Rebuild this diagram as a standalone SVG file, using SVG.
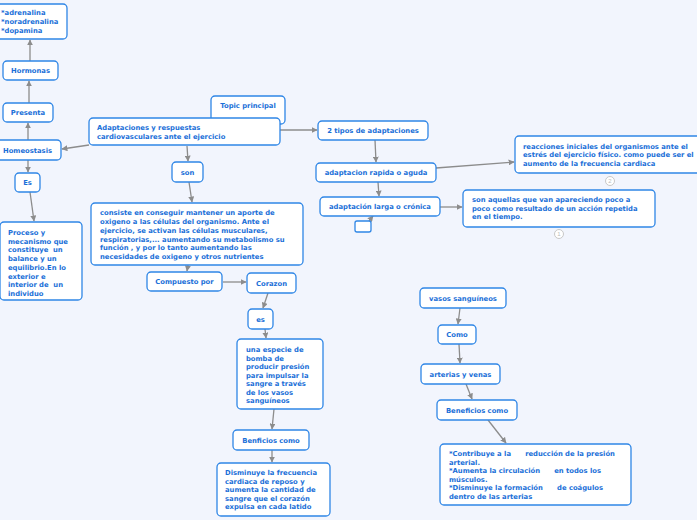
<svg xmlns="http://www.w3.org/2000/svg" width="697" height="520" viewBox="0 0 697 520">
<style>
.n rect{fill:#fff;stroke:#2f86e6;stroke-width:1.3}
.n text{font-family:"DejaVu Sans",Verdana,sans-serif;font-weight:bold;font-size:6.8px;fill:#1a6fd8;white-space:pre}
.c{text-anchor:middle}
.e line{stroke:#8c8c8c;stroke-width:1.3;marker-end:url(#a)}
.dot{fill:#fff;stroke:#c8c8c8;stroke-width:1}
.dt{font-family:"Liberation Sans",Arial,sans-serif;font-size:6px;fill:#bbb;text-anchor:middle}
</style>
<defs>
<marker id="a" viewBox="0 0 10 10" refX="9" refY="5" markerWidth="6" markerHeight="6" markerUnits="userSpaceOnUse" orient="auto"><path d="M0,0L10,5L0,10z" fill="#8c8c8c"/></marker>
</defs>
<rect width="697" height="520" fill="#f2f5fd"/>
<g id="edges" class="e">
<line x1="30" y1="61" x2="30" y2="40"/>
<line x1="29" y1="103" x2="29" y2="81"/>
<line x1="28" y1="140" x2="28" y2="123"/>
<line x1="89" y1="145" x2="62" y2="149"/>
<line x1="28" y1="160" x2="28" y2="172"/>
<line x1="30" y1="192" x2="34" y2="221"/>
<line x1="187" y1="146" x2="188" y2="161"/>
<line x1="189" y1="182" x2="192" y2="202"/>
<line x1="188" y1="265" x2="187" y2="271"/>
<line x1="223" y1="282" x2="246" y2="282"/>
<line x1="268" y1="293" x2="263" y2="308"/>
<line x1="265" y1="329" x2="266" y2="338"/>
<line x1="274" y1="409" x2="272" y2="429"/>
<line x1="272" y1="450" x2="272" y2="462"/>
<line x1="280" y1="130" x2="317" y2="130"/>
<line x1="375" y1="140" x2="376" y2="162"/>
<line x1="378" y1="182" x2="379" y2="196"/>
<line x1="369" y1="221" x2="373" y2="216"/>
<line x1="436" y1="168" x2="514" y2="162"/>
<line x1="440" y1="207" x2="462" y2="207"/>
<line x1="460" y1="308" x2="458" y2="324"/>
<line x1="459" y1="344" x2="460" y2="363"/>
<line x1="466" y1="384" x2="472" y2="399"/>
<line x1="488" y1="420" x2="506" y2="443"/>
</g>
<g id="hormonaslist" class="n"><rect x="-4" y="4" width="71" height="35" rx="4"/><text x="1" y="15">*adrenalina</text><text x="1" y="24">*noradrenalina</text><text x="1" y="33">*dopamina</text></g>
<g id="hormonas" class="n"><rect x="3" y="61" width="55" height="19" rx="4"/><text class="c" x="30.5" y="73">Hormonas</text></g>
<g id="presenta" class="n"><rect x="3" y="103" width="50" height="19" rx="4"/><text class="c" x="28" y="115">Presenta</text></g>
<g id="homeostasis" class="n"><rect x="-4" y="140" width="65" height="20" rx="4"/><text x="3" y="152.5">Homeostasis</text></g>
<g id="es1" class="n"><rect x="15" y="173" width="25" height="19" rx="4"/><text class="c" x="27.5" y="185">Es</text></g>
<g id="proceso" class="n"><rect x="0" y="222" width="82" height="78" rx="4"/><text x="8" y="235">Proceso y</text><text x="8" y="243.7">mecanismo que</text><text x="8" y="252.4">constituye  un</text><text x="8" y="261.1">balance y un</text><text x="8" y="269.8">equilibrio.En lo</text><text x="8" y="278.5">exterior e</text><text x="8" y="287.2">interior de  un</text><text x="8" y="295.9">individuo</text></g>
<g id="topic" class="n"><rect x="211" y="96" width="74" height="28" rx="4"/><text class="c" x="248" y="108">Topic principal</text></g>
<g id="main" class="n"><rect x="89" y="118" width="191" height="27" rx="4"/><text x="97" y="129.5">Adaptaciones y respuestas</text><text x="97" y="138.5">cardiovasculares ante el ejercicio</text></g>
<g id="son" class="n"><rect x="172" y="162" width="31" height="20" rx="4"/><text class="c" x="187.5" y="174.5">son</text></g>
<g id="consiste" class="n"><rect x="91" y="203" width="212" height="62" rx="4"/><text x="100" y="215">consiste en conseguir mantener un aporte de</text><text x="100" y="224">oxigeno a las células del organismo. Ante el</text><text x="100" y="232.8">ejercicio, se activan las células musculares,</text><text x="100" y="241.6">respiratorias,... aumentando su metabolismo su</text><text x="100" y="250.4">función , y por lo tanto aumentando las</text><text x="100" y="259.2">necesidades de oxigeno y otros nutrientes</text></g>
<g id="compuesto" class="n"><rect x="147" y="272" width="75" height="19" rx="4"/><text class="c" x="184.5" y="284">Compuesto por</text></g>
<g id="corazon" class="n"><rect x="247" y="273" width="49" height="20" rx="4"/><text class="c" x="271.5" y="285.5">Corazon</text></g>
<g id="es2" class="n"><rect x="248" y="309" width="25" height="20" rx="4"/><text class="c" x="260.5" y="321.5">es</text></g>
<g id="bomba" class="n"><rect x="237" y="339" width="86" height="70" rx="4"/><text x="246" y="352">una especie de</text><text x="246" y="360.5">bomba de</text><text x="246" y="369">producir presión</text><text x="246" y="377.5">para impulsar la</text><text x="246" y="386">sangre a través</text><text x="246" y="394.5">de los vasos</text><text x="246" y="403">sanguíneos</text></g>
<g id="benficios" class="n"><rect x="233" y="430" width="76" height="20" rx="4"/><text class="c" x="271" y="442.5">Benficios como</text></g>
<g id="disminuye" class="n"><rect x="217" y="463" width="113" height="53" rx="4"/><text x="225" y="475">Disminuye la frecuencia</text><text x="225" y="483.5">cardiaca de reposo y</text><text x="225" y="492">aumenta la cantidad de</text><text x="225" y="500.5">sangre que el corazón</text><text x="225" y="509">expulsa en cada latido</text></g>
<g id="tipos" class="n"><rect x="318" y="121" width="110" height="19" rx="4"/><text class="c" x="373" y="133">2 tipos de adaptaciones</text></g>
<g id="rapida" class="n"><rect x="316" y="163" width="120" height="19" rx="4"/><text class="c" x="376" y="175">adaptacion rapida o aguda</text></g>
<g id="larga" class="n"><rect x="320" y="197" width="120" height="19" rx="4"/><text class="c" x="380" y="209">adaptación larga o crónica</text></g>
<g id="vacio" class="n"><rect x="355" y="221" width="16" height="11" rx="2"/></g>
<g id="reacciones" class="n"><rect x="515" y="136" width="186" height="37" rx="4"/><text x="523" y="148.5">reacciones iniciales del organismos ante el</text><text x="523" y="157">estrés del ejercicio físico. como puede ser el</text><text x="523" y="165.5">aumento de la frecuencia cardiaca</text></g>
<g id="badge2"><circle class="dot" cx="610" cy="181" r="4.5"/><text class="dt" x="610" y="183">2</text></g>
<g id="aquellas" class="n"><rect x="463" y="190" width="192" height="37" rx="4"/><text x="472" y="202">son aquellas que van apareciendo poco a</text><text x="472" y="210.5">poco como resultado de un acción repetida</text><text x="472" y="219">en el tiempo.</text></g>
<g id="badge1"><circle class="dot" cx="559" cy="234" r="4.5"/><text class="dt" x="559" y="236">1</text></g>
<g id="vasos" class="n"><rect x="420" y="288" width="86" height="20" rx="4"/><text class="c" x="463" y="300.5">vasos sanguíneos</text></g>
<g id="como" class="n"><rect x="438" y="325" width="38" height="19" rx="4"/><text class="c" x="457" y="337">Como</text></g>
<g id="arterias" class="n"><rect x="421" y="364" width="79" height="20" rx="4"/><text class="c" x="460.5" y="376.5">arterias y venas</text></g>
<g id="beneficios" class="n"><rect x="437" y="400" width="80" height="20" rx="4"/><text class="c" x="477" y="412.5">Beneficios como</text></g>
<g id="contribuye" class="n"><rect x="440" y="444" width="191" height="61" rx="4"/><text x="449" y="456">*Contribuye a la      reducción de la presión</text><text x="449" y="464.5">arterial.</text><text x="449" y="473">*Aumenta la circulación      en todos los</text><text x="449" y="481.5">músculos.</text><text x="449" y="490">*Disminuye la formación      de coágulos</text><text x="449" y="498.5">dentro de las arterias</text></g>
</svg>
